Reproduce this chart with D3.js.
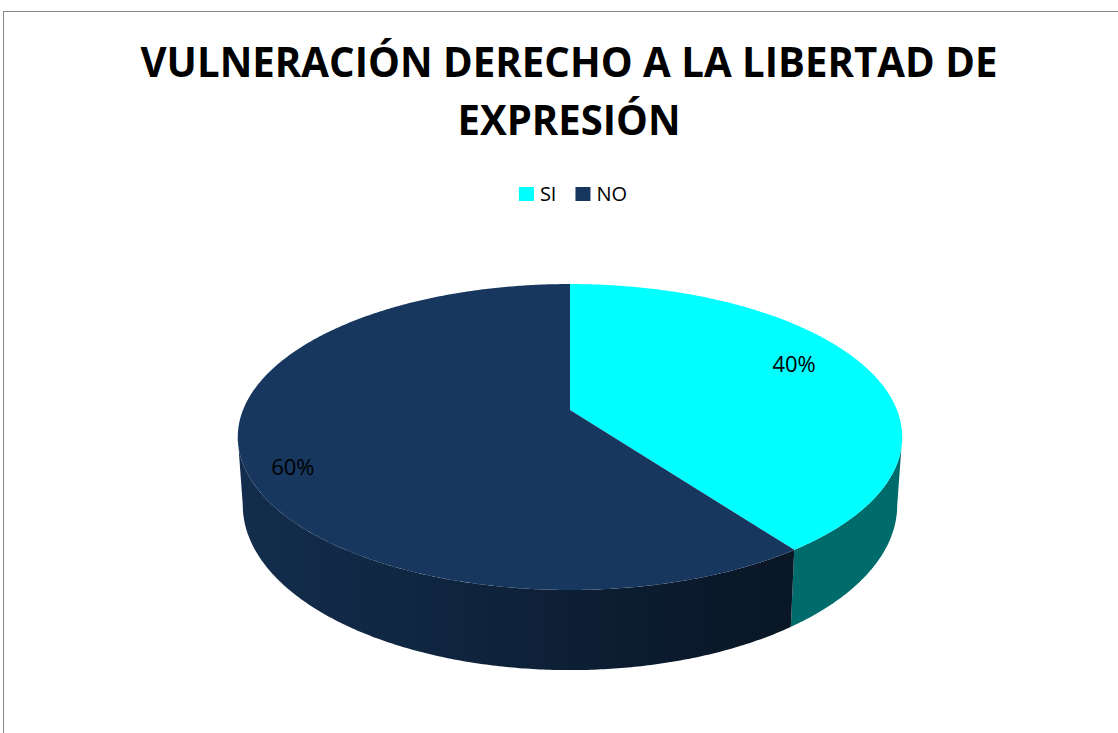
<!DOCTYPE html>
<html>
<head>
<meta charset="utf-8">
<script src="https://cdn.jsdelivr.net/npm/d3@7"></script>
<style>
  body { margin: 0; background: #fff; }
  text { font-family: "Open Sans", "Noto Sans", sans-serif; }
</style>
</head>
<body>
<svg id="chart" width="1118" height="733"></svg>
<script>
const categories = ["SI", "NO"];
const values = [40, 60];
const colors = ["#00FFFF", "#17375E"];
const titleLines = ["VULNERACIÓN DERECHO A LA LIBERTAD DE", "EXPRESIÓN"];

const svg = d3.select("#chart");
const defs = svg.append("defs");

// chart area frame (runs off the right/bottom edge like the original)
svg.append("rect")
  .attr("x", 3.5).attr("y", 11.5)
  .attr("width", 1200).attr("height", 800)
  .attr("fill", "#fff")
  .attr("stroke", "#868686")
  .attr("stroke-width", 1);

// title
const titleWidths = [857, 223];
const title = svg.append("text")
  .attr("text-anchor", "middle")
  .style("font-size", "41px")
  .style("font-weight", "bold")
  .attr("fill", "#000");
title.selectAll("tspan")
  .data(titleLines)
  .join("tspan")
  .attr("x", 569)
  .attr("y", (d, i) => 77 + i * 58)
  .attr("textLength", (d, i) => titleWidths[i])
  .attr("lengthAdjust", "spacingAndGlyphs")
  .text(d => d);

// legend
const legend = svg.append("g");
let lx = 0;
categories.forEach((c, i) => {
  const g = legend.append("g").attr("transform", `translate(${lx},0)`);
  g.append("rect").attr("x", 0).attr("y", -7).attr("width", 15).attr("height", 14).attr("fill", colors[i]);
  const t = g.append("text").attr("x", 21).attr("y", 0).attr("dy", "0.35em")
    .style("font-size", "20px").attr("fill", "#000").text(c);
  lx += 21 + t.node().getComputedTextLength() + 19;
});
const legendW = lx - 19;
legend.attr("transform", `translate(${573 - legendW / 2},194)`);

// 3D pie with a bit of perspective
const cx = 570, cy = 410, A = 327, B = 148.2, k = 0.1765, depth = 66, shrink = 0.985;
function topPt(phi, r = 1) {
  const u = Math.sin(phi) * r, v = -Math.cos(phi) * r;
  const w = 1 - k * v;
  return [cx + A * u / w, cy + B * v / w];
}
function botPt(phi) {
  const [x, y] = topPt(phi);
  const v = -Math.cos(phi);
  return [cx + (x - cx) * shrink, y + depth / (1 - k * v)];
}
// side wall gets darker from left to right
const shadeScale = d3.scaleLinear().domain([250, 750]).range([0.82, 0.42]).clamp(true);
function shade(base, x) {
  const f = Math.max(0.41, shadeScale(x));
  const c = d3.rgb(base);
  return d3.rgb(c.r * f, c.g * f, c.b * f).formatHex();
}

const pie = d3.pie().sort(null).value(d => d)(values);
const deg = Math.PI / 180;
// silhouette of the wall: where the rim reaches its widest point
const edgeAng = Math.acos(-k);
const sideLo = edgeAng, sideHi = 2 * Math.PI - edgeAng;
const gx0 = 230, gx1 = 910;

const sides = svg.append("g");
pie.forEach((s, i) => {
  const a0 = Math.max(s.startAngle, sideLo), a1 = Math.min(s.endAngle, sideHi);
  if (a1 <= a0) return;
  const grad = defs.append("linearGradient")
    .attr("id", `side${i}`)
    .attr("gradientUnits", "userSpaceOnUse")
    .attr("x1", gx0).attr("x2", gx1).attr("y1", 0).attr("y2", 0);
  d3.range(0, 1.0001, 0.05).forEach(t => {
    grad.append("stop")
      .attr("offset", t)
      .attr("stop-color", shade(colors[i], gx0 + t * (gx1 - gx0)));
  });
  const n = Math.ceil((a1 - a0) / (0.5 * deg));
  const rimTop = d3.range(n + 1).map(j => topPt(a0 + (a1 - a0) * j / n));
  const rimBot = d3.range(n, -1, -1).map(j => botPt(a0 + (a1 - a0) * j / n));
  sides.append("path")
    .attr("d", d3.line()(rimTop.concat(rimBot)) + "Z")
    .attr("fill", `url(#side${i})`);
});

const tops = svg.append("g");
pie.forEach((s, i) => {
  const n = Math.ceil((s.endAngle - s.startAngle) / (0.5 * deg));
  const pts = [[cx, cy]];
  for (let j = 0; j <= n; j++) pts.push(topPt(s.startAngle + (s.endAngle - s.startAngle) * j / n));
  tops.append("path")
    .attr("d", d3.line()(pts) + "Z")
    .attr("fill", colors[i]);
});

// data labels
const total = d3.sum(values);
svg.append("g").selectAll("text")
  .data(pie)
  .join("text")
  .attr("transform", d => {
    const frac = d.value / total;
    const [x, y] = topPt((d.startAngle + d.endAngle) / 2, 0.55 + 0.5 * frac);
    return `translate(${x},${cy + (y - cy) * 1.4})`;
  })
  .attr("text-anchor", "middle")
  .attr("dy", "0.35em")
  .style("font-size", "22px")
  .attr("fill", "#000")
  .text(d => Math.round(d.value / total * 100) + "%");
</script>
</body>
</html>
